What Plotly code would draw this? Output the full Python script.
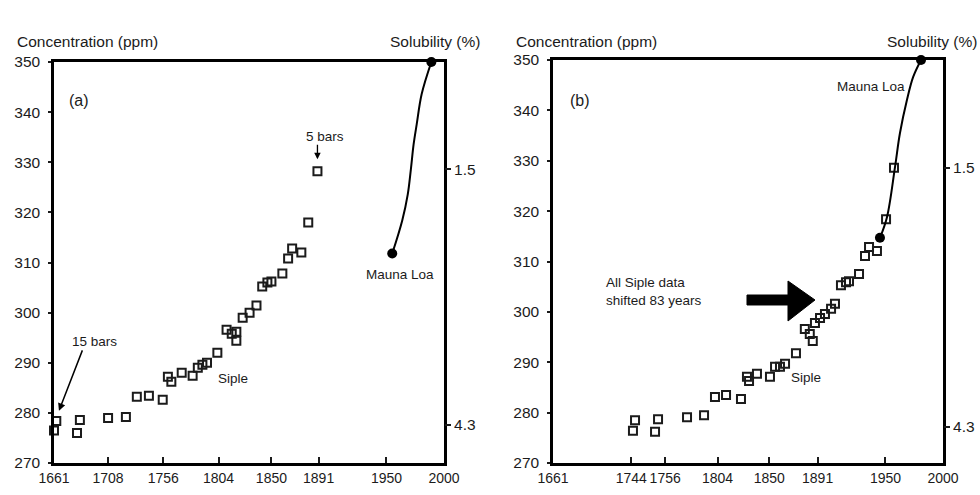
import plotly.graph_objects as go

# ---------------- data ----------------
# Panel (a): Siple ice-core data (year, ppm)
siple_years_a = [1661, 1663, 1681, 1683.5, 1708, 1723.5, 1733, 1743.5, 1755.5, 1760, 1763,
                 1772, 1781.5, 1786, 1790, 1794, 1803, 1811, 1815.5, 1819.5, 1819.5, 1825,
                 1831, 1837, 1842, 1846.5, 1850, 1859.5, 1864.5, 1868, 1876, 1882, 1890]
siple_ppm_a = [276.5, 278.4, 276.0, 278.6, 279.0, 279.2, 283.2, 283.4, 282.6, 287.2, 286.2,
               288.0, 287.4, 289.0, 289.6, 290.0, 292.0, 296.6, 295.8, 296.2, 294.4, 299.0,
               300.0, 301.4, 305.2, 306.0, 306.2, 307.8, 310.8, 312.8, 312.0, 318.0, 328.2]
# Panel (a): Mauna Loa curve
ml_years_a = [1955, 1963.7, 1968.5, 1971.2, 1973.6, 1976.3, 1980.6, 1989]
ml_ppm_a = [311.8, 318.4, 323.6, 328.6, 333.6, 337.6, 343.6, 350.0]

# Panel (b): Siple data shifted
siple_years_b = [1730.5, 1732.3, 1749.7, 1752.3, 1777.5, 1792.3, 1801.8, 1811.4, 1824.4,
                 1829.6, 1831.4, 1838.3, 1849.6, 1854, 1858.3, 1862.7, 1872.2, 1879.9,
                 1884.2, 1886.8, 1888.7, 1893.1, 1897.4, 1902.7, 1906.1, 1911.3, 1915.7,
                 1918.3, 1927, 1932.2, 1935.7, 1942.6, 1950.5, 1957.4]
siple_ppm_b = [276.4, 278.5, 276.2, 278.7, 279.1, 279.5, 283.1, 283.5, 282.7,
               287.1, 286.3, 287.7, 287.1, 289.1, 289.1, 289.7, 291.8, 296.6,
               295.6, 294.2, 297.8, 298.8, 299.6, 300.6, 301.6, 305.3, 305.9,
               306.1, 307.5, 311.1, 312.9, 312.1, 318.4, 328.6]
# Panel (b): Mauna Loa curve
ml_years_b = [1945.2, 1951.3, 1958.3, 1962.6, 1968.7, 1974.0, 1980.9]
ml_ppm_b = [314.7, 318.8, 328.8, 335.5, 342.1, 346.6, 350.0]

# Tick labels
xtick_vals_a = [1661, 1708, 1756, 1804, 1850, 1891, 1950, 2000]
xtick_text_a = ["1661", "1708", "1756", "1804", "1850", "1891", "1950", "2000"]
xtick_vals_b = [1661, 1729, 1758.5, 1804, 1849, 1891, 1950, 2000]
xtick_text_b = ["1661", "1744", "1756", "1804", "1850", "1891", "1950", "2000"]
ytick_vals = [270, 280, 290, 300, 310, 320, 330, 340, 350]
sol_vals = [1.5, 4.3]
sol_text = ["1.5", "4.3"]

# ---------------- style ----------------
FONT = "Liberation Sans, Arial, sans-serif"
INK = "#1b1b1b"
W, H = 980, 495


def px(x):
    return x / W


def py(y):
    return 1 - y / H


fig = go.Figure()

sq = dict(symbol="square-open", size=8, color=INK, line=dict(width=2, color=INK))
dot = dict(symbol="circle", size=10, color="#000")

fig.add_trace(go.Scatter(x=siple_years_a, y=siple_ppm_a, mode="markers", marker=sq,
                         xaxis="x", yaxis="y", cliponaxis=False, showlegend=False))
fig.add_trace(go.Scatter(x=ml_years_a, y=ml_ppm_a, mode="lines",
                         line=dict(color="#000", width=2, shape="spline"),
                         xaxis="x", yaxis="y", cliponaxis=False, showlegend=False))
fig.add_trace(go.Scatter(x=[ml_years_a[0], ml_years_a[-1]], y=[ml_ppm_a[0], ml_ppm_a[-1]],
                         mode="markers", marker=dot, xaxis="x", yaxis="y",
                         cliponaxis=False, showlegend=False))
# reference trace so the right-hand solubility axis is drawn
fig.add_trace(go.Scatter(x=[None], y=[None], xaxis="x", yaxis="y2", showlegend=False,
                         hoverinfo="skip"))

fig.add_trace(go.Scatter(x=siple_years_b, y=siple_ppm_b, mode="markers", marker=sq,
                         xaxis="x2", yaxis="y3", cliponaxis=False, showlegend=False))
fig.add_trace(go.Scatter(x=ml_years_b, y=ml_ppm_b, mode="lines",
                         line=dict(color="#000", width=2, shape="spline"),
                         xaxis="x2", yaxis="y3", cliponaxis=False, showlegend=False))
fig.add_trace(go.Scatter(x=[ml_years_b[0], ml_years_b[-1]], y=[ml_ppm_b[0], ml_ppm_b[-1]],
                         mode="markers", marker=dot, xaxis="x2", yaxis="y3",
                         cliponaxis=False, showlegend=False))
fig.add_trace(go.Scatter(x=[None], y=[None], xaxis="x2", yaxis="y4", showlegend=False,
                         hoverinfo="skip"))

xcommon = dict(range=[1661, 2000], ticks="inside", ticklen=6, tickwidth=2, tickcolor=INK,
               showline=True, linewidth=2.5, linecolor="#000", mirror=True,
               showgrid=False, zeroline=False, automargin=False, tickangle=0,
               tickfont=dict(family=FONT, size=14, color=INK))
ycommon = dict(range=[270, 350], tickvals=ytick_vals, ticks="outside", ticklen=3,
               tickwidth=2, tickcolor=INK, showline=True, linewidth=2.5, linecolor="#000",
               mirror=True, showgrid=False, zeroline=False, ticklabelstandoff=5,
               automargin=False, tickfont=dict(family=FONT, size=15.5, color=INK))
scommon = dict(tickvals=sol_vals, ticktext=sol_text, ticks="outside", ticklen=6,
               tickwidth=1.5, tickcolor=INK, showline=False, showgrid=False,
               zeroline=False, side="right", automargin=False,
               tickfont=dict(family=FONT, size=15.5, color=INK))

fig.update_layout(
    width=W, height=H,
    margin=dict(l=0, r=0, t=0, b=0, autoexpand=False),
    paper_bgcolor="white", plot_bgcolor="white",
    font=dict(family=FONT, color=INK),
    xaxis=dict(domain=[px(54), px(444)], anchor="y", tickvals=xtick_vals_a,
               ticktext=xtick_text_a, **xcommon),
    yaxis=dict(domain=[py(463), py(62)], anchor="x", **ycommon),
    yaxis2=dict(overlaying="y", anchor="x", range=[4.717, 0.325], **scommon),
    xaxis2=dict(domain=[px(553), px(943)], anchor="y3", tickvals=xtick_vals_b,
                ticktext=xtick_text_b, **xcommon),
    yaxis3=dict(domain=[py(463), py(60)], anchor="x2", **ycommon),
    yaxis4=dict(overlaying="y3", anchor="x2", range=[4.689, 0.332], **scommon),
)

ann_font = dict(family=FONT, size=13.5, color=INK)
title_font = dict(family=FONT, size=15.5, color=INK)

annotations = [
    # axis titles
    dict(text="Concentration (ppm)", x=px(15), y=py(42), xanchor="left", yanchor="middle",
         font=title_font),
    dict(text="Solubility (%)", x=px(482), y=py(42), xanchor="right", yanchor="middle",
         font=title_font),
    dict(text="Concentration (ppm)", x=px(514), y=py(42), xanchor="left", yanchor="middle",
         font=title_font),
    dict(text="Solubility (%)", x=px(979), y=py(42), xanchor="right", yanchor="middle",
         font=title_font),
    # panel (a)
    dict(text="(a)", x=px(79), y=py(101), xanchor="center", yanchor="middle",
         font=dict(family=FONT, size=16, color=INK)),
    dict(text="5 bars", x=px(325), y=py(136), xanchor="center", yanchor="middle",
         font=ann_font),
    dict(text="15 bars", x=px(94), y=py(341), xanchor="center", yanchor="middle",
         font=ann_font),
    dict(text="Siple", x=px(233), y=py(378), xanchor="center", yanchor="middle",
         font=ann_font),
    dict(text="Mauna Loa", x=px(400), y=py(274), xanchor="center", yanchor="middle",
         font=ann_font),
    # panel (b)
    dict(text="(b)", x=px(580), y=py(101), xanchor="center", yanchor="middle",
         font=dict(family=FONT, size=16, color=INK)),
    dict(text="Mauna Loa", x=px(871), y=py(86), xanchor="center", yanchor="middle",
         font=ann_font),
    dict(text="All Siple data<br>shifted 83 years", x=px(604), y=py(291), xanchor="left",
         yanchor="middle", align="left", font=ann_font),
    dict(text="Siple", x=px(806), y=py(377), xanchor="center", yanchor="middle",
         font=ann_font),
]
for a in annotations:
    a.update(xref="paper", yref="paper", showarrow=False)

# arrows (a)
annotations.append(dict(x=1890, y=330.6, xref="x", yref="y", text="", showarrow=True,
                        ax=0, ay=-16, arrowhead=2, arrowsize=1, arrowwidth=1.3,
                        arrowcolor="#000"))
annotations.append(dict(x=1665.3, y=280.4, xref="x", yref="y", text="", showarrow=True,
                        ax=24, ay=-62, arrowhead=2, arrowsize=1, arrowwidth=1.5,
                        arrowcolor="#000"))
fig.update_layout(annotations=annotations)

# big arrow in panel (b)
arrow_px = [(747, 295), (788, 295), (788, 281), (815, 300), (788, 321), (788, 305), (747, 305)]
path = "M " + " L ".join(f"{px(x):.5f},{py(y):.5f}" for x, y in arrow_px) + " Z"
fig.add_shape(type="path", path=path, xref="paper", yref="paper",
              fillcolor="#000", line=dict(color="#000", width=1))

fig.write_html("out.html", config={"displayModeBar": False},
               post_script="document.body.style.margin='0';document.body.style.padding='0';")
